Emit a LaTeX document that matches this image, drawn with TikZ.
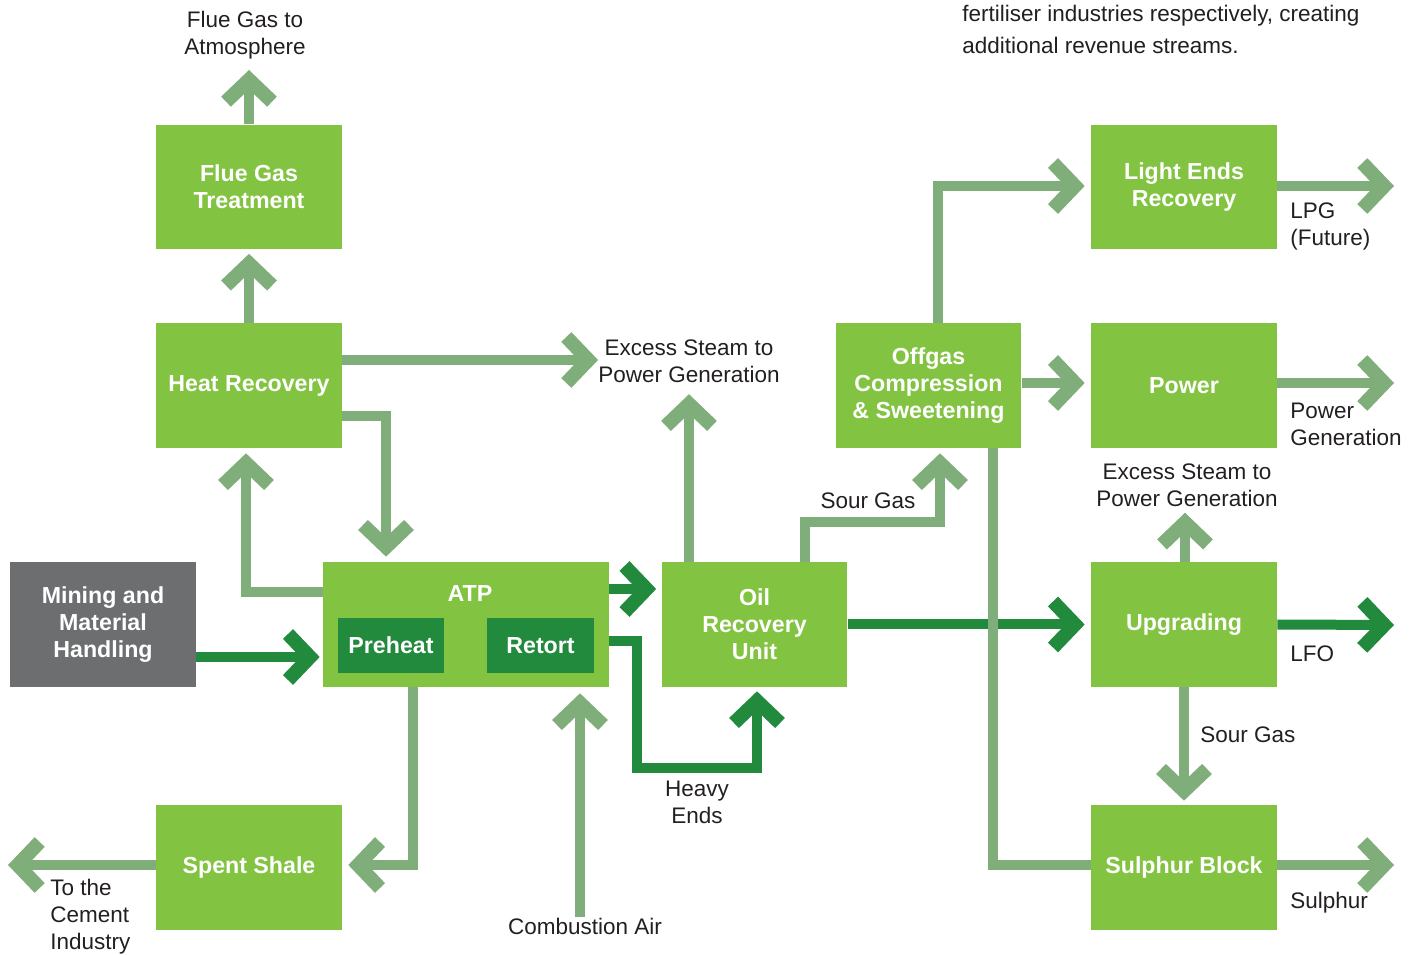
\documentclass[tikz,border=0pt]{standalone}
\usepackage{fontspec}
\setmainfont{Liberation Sans}
\usetikzlibrary{arrows.meta}

\definecolor{boxgreen}{HTML}{82C341}
\definecolor{darkgreen}{HTML}{218A3D}
\definecolor{flowgreen}{HTML}{7FAE7B}
\definecolor{minegray}{HTML}{6D6E70}
\definecolor{labeltext}{HTML}{231F20}

\begin{document}
\begin{tikzpicture}[x=0.02cm, y=-0.02cm,
    unit/.style ={rectangle, fill=boxgreen, text=white, inner sep=0pt,
      font=\bfseries\fontsize{13.2}{15.3}\selectfont, align=center,
      minimum width=3.72cm, minimum height=2.5cm},
    mine/.style ={unit, fill=minegray},
    subunit/.style ={unit, fill=darkgreen, minimum width=2.13cm, minimum height=1.1cm},
    title/.style ={text=white, inner sep=0pt, font=\bfseries\fontsize{13.2}{15.3}\selectfont},
    lbl/.style ={text=labeltext, inner sep=0pt, align=center,
      font=\fontsize{12.8}{15.3}\selectfont},
    flow/.style ={draw=flowgreen, line width=0.2cm,
      -{Straight Barb[length=0.44cm, width=0.92cm, line width=0.28cm, sharp]}},
    main/.style ={flow, draw=darkgreen}]
   \useasboundingbox (0,0) rectangle (1410,955);

   % units
   \node[unit] (fgt) at (249,187)    {Flue Gas\\Treatment};
   \node[unit] (hr)  at (249,385.5)  {Heat Recovery};
   \node[mine] (mmh) at (103,624.5)  {Mining and\\Material\\Handling};
   \node[unit, minimum width=5.72cm] (atp) at (466,624.5) {};
   \node[title] (atptitle) at (470,594) {ATP};
   \node[subunit] (pre) at (391,645.5)   {Preheat};
   \node[subunit] (ret) at (540.5,645.5) {Retort};
   \node[unit] (oru) at (754.5,624.5) {Oil\\Recovery\\Unit};
   \node[unit] (ocs) at (928.5,385.5) {Offgas\\Compression\\\& Sweetening};
   \node[unit] (ler) at (1184,187)    {Light Ends\\Recovery};
   \node[unit] (pow) at (1184,385.5)  {Power};
   \node[unit] (upg) at (1184,624.5)  {Upgrading};
   \node[unit] (ss)  at (249,867.5)   {Spent Shale};
   \node[unit] (sb)  at (1184,867.5)  {Sulphur Block};

   % labels
   \node[lbl] (atmo)    at (245,35.5)  {Flue Gas to\\Atmosphere};
   \node[lbl] (steamA)  at (689,361.5) {Excess Steam to\\Power Generation};
   \node[lbl] (heavy)   at (697,802)   {Heavy\\Ends};
   \node[lbl] (comb)    at (585,926)   {Combustion Air};
   \node[lbl, anchor=west, align=left] (cement) at (50,917) {To the\\Cement\\Industry};
   \node[lbl] (sourA)   at (868,501)   {Sour Gas};
   \node[lbl, anchor=west, align=left] (lpg)    at (1290,226.5) {LPG\\(Future)};
   \node[lbl, anchor=west, align=left] (powgen) at (1290,424)   {Power\\Generation};
   \node[lbl] (steamB)  at (1187,485)  {Excess Steam to\\Power Generation};
   \node[lbl, anchor=west] (lfo)   at (1290,654) {LFO};
   \node[lbl, anchor=west] (sourB) at (1200,735) {Sour Gas};
   \node[lbl, anchor=west] (sulph) at (1290,903) {Sulphur};
   \node[lbl, anchor=west, align=left, font=\fontsize{12.8}{18.2}\selectfont] (note) at (962,29)
     {fertiliser industries respectively, creating\\additional revenue streams.};

   % free ends
   \coordinate (atmoEnd)   at (249,70);
   \coordinate (cementEnd) at (8,865);
   \coordinate (lpgEnd)    at (1394,186);
   \coordinate (powEnd)    at (1394,383);
   \coordinate (lfoEnd)    at (1394,625);
   \coordinate (sulphEnd)  at (1394,865);

   % main flows
   \draw[main, shorten >=0.06cm] (mmh.east |- 0,657) -- (atp.west |- 0,657);
   \draw[main, shorten >=0.1cm] (atp.east |- 0,589) -- (oru.west |- 0,589);
   \draw[main, shorten >=0.08cm] (atp.east |- 0,641) -- (637,641) -- (637,768)
      -- (757,768) -- (oru.south -| 757,0);
   \draw[main, shorten >=0.12cm] (oru.east) -- (upg.west);
   \draw[main] (upg.east) -- (lfoEnd);

   % side flows
   \draw[flow] (fgt.north) -- (atmoEnd);
   \draw[flow, shorten >=0.08cm] (hr.north) -- (fgt.south);
   \draw[flow, shorten >=0.0cm] (hr.east |- 0,360) -- (steamA.west |- 0,360);
   \draw[flow, shorten >=0.1cm] (hr.east |- 0,416) -- (386,416) -- (atp.north -| 386,0);
   \draw[flow, shorten >=0.1cm] (atp.west |- 0,592) -- (246,592) -- (hr.south -| 246,0);
   \draw[flow, shorten >=0.12cm] (atp.south -| 413,0) -- (413,865) -- (ss.east |- 0,865);
   \draw[flow, shorten >=0.12cm] (comb.north -| 580,0) -- (atp.south -| 580,0);
   \draw[flow] (ss.west |- 0,865) -- (cementEnd);
   \draw[flow, shorten >=0.22cm] (oru.north -| 689,0) -- (steamA.south -| 689,0);
   \draw[flow, shorten >=0.1cm] (oru.north -| 805,0) -- (805,522) -- (940,522) -- (ocs.south -| 940,0);
   \draw[flow, shorten >=0.12cm] (ocs.north -| 938,0) -- (938,186) -- (ler.west |- 0,186);
   \draw[flow, shorten >=0.12cm] (ocs.east |- 0,383) -- (pow.west |- 0,383);
   \draw[flow, -] (ocs.south -| 993,0) -- (993,865) -- (sb.west |- 0,865);
   \draw[flow] (ler.east |- 0,186) -- (lpgEnd);
   \draw[flow] (pow.east |- 0,383) -- (powEnd);
   \draw[flow, shorten >=0.12cm] (upg.north -| 1185,0) -- (steamB.south -| 1185,0);
   \draw[flow, shorten >=0.08cm] (upg.south) -- (sb.north);
   \draw[flow] (sb.east |- 0,865) -- (sulphEnd);
 \end{tikzpicture}
\end{document}
